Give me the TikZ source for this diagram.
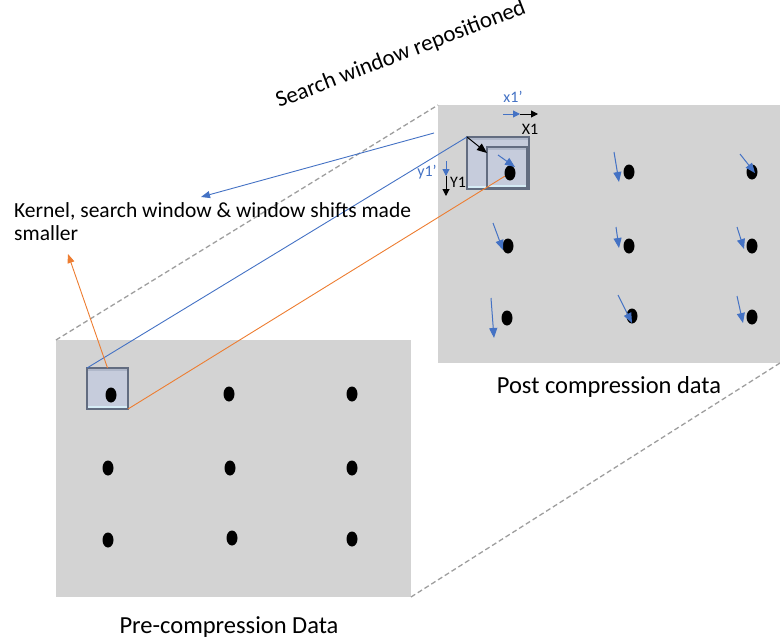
\documentclass[tikz,border=0pt]{standalone}
\usepackage{fontspec}
\setmainfont{Carlito}
\usetikzlibrary{arrows.meta,shapes.geometric}
\definecolor{msblue}{RGB}{68,114,196}
\definecolor{msorange}{RGB}{237,125,49}
\definecolor{panel}{RGB}{211,211,211}
\definecolor{guide}{RGB}{158,158,158}
\definecolor{kedge}{RGB}{98,108,128}
\definecolor{kfill}{RGB}{198,204,220}
\definecolor{ktop}{RGB}{176,184,202}
\definecolor{kbottom}{RGB}{214,236,246}

\begin{document}
\begin{tikzpicture}[x=1pt,y=-1pt,
  panelbox/.style={fill=panel, draw=none, inner sep=0pt, outer sep=0pt, anchor=north west},
  spot/.style={ellipse, fill=black, draw=none, minimum width=11pt, minimum height=15pt, inner sep=0pt},
  kbox/.style={draw=kedge, line width=1.4pt, fill=kfill, inner sep=0pt, outer sep=0pt, anchor=north west,
    path picture={
      \fill[ktop] (path picture bounding box.north west) rectangle ([yshift=-3pt]path picture bounding box.north east);
      \fill[kbottom] (path picture bounding box.south west) rectangle ([yshift=3.5pt]path picture bounding box.south east);
    }},
  guideline/.style={draw=guide, dash pattern=on 5pt off 3pt, line width=1.3pt},
  link/.style={line width=0.9pt},
  shift tip/.style={line width=1pt, -{Triangle[length=10pt,width=8pt]}},
  axis tip/.style={line width=1pt, -{Triangle[length=7pt,width=7pt]}},
  caption/.style={font=\fontsize{24.5}{29}\selectfont, inner sep=0pt},
  notetext/.style={font=\fontsize{21.5}{23}\selectfont, inner sep=0pt},
  tag/.style={font=\fontsize{16}{18}\selectfont, inner sep=0pt}
]
\useasboundingbox (0,0) rectangle (780,640);

% data panels
\node[panelbox, minimum width=355pt, minimum height=257pt] (pre) at (56,340) {};
\node[panelbox, minimum width=342pt, minimum height=258pt] (post) at (438,105) {};

% projection guides between panel corners
\draw[guideline] (pre.north west) -- (post.north west);
\draw[guideline] (pre.south east) -- (post.south east);

% kernel and search windows
\node[kbox, minimum width=41pt, minimum height=41pt] (kpre) at (87,368) {};
\node[kbox, minimum width=62pt, minimum height=52pt] (swin) at (467,137) {};
\node[kbox, minimum width=40pt, minimum height=41pt] (kpost) at (487,147) {};

% pre-compression points
\node[spot] (p11) at (111,395) {};
\node[spot] (p12) at (229,394) {};
\node[spot] (p13) at (352,394) {};
\node[spot] (p21) at (108,468) {};
\node[spot] (p22) at (230,468) {};
\node[spot] (p23) at (352,468) {};
\node[spot] (p31) at (108,540) {};
\node[spot] (p32) at (232,538) {};
\node[spot] (p33) at (352,539) {};

% post-compression points
\node[spot] (q11) at (510,173) {};
\node[spot] (q12) at (629,172) {};
\node[spot] (q13) at (752,172) {};
\node[spot] (q21) at (508,246) {};
\node[spot] (q22) at (629,246) {};
\node[spot] (q23) at (752,246) {};
\node[spot] (q31) at (507,318) {};
\node[spot] (q32) at (632,316) {};
\node[spot] (q33) at (752,317) {};

% links from the original kernel to the compressed frame
\draw[msblue, link] (kpre.north west) -- (swin.north west);
\draw[msorange, link] (kpre.south east) -- (q11);

% captions
\node[notetext, anchor=base west, align=left] (note) at (14,240) {Kernel, search window \& window shifts made\\smaller};
\node[caption, anchor=base] (postcap) at (609,393) {Post compression data};
\node[caption, anchor=base] (precap) at (229,633) {Pre-compression Data};
\node[caption, anchor=base west, rotate=21, font=\fontsize{23}{27}\selectfont] (moved) at (279,108) {Search window repositioned};

% callouts to the note
\coordinate (bluefrom) at (434,133);
\coordinate (blueto) at (201,197);
\coordinate (orangeto) at (68,254);
\draw[msblue, link, -{Triangle[length=9pt,width=7pt]}] (bluefrom) -- (blueto);
\draw[msorange, link, -{Triangle[length=9pt,width=7pt]}] (kpre.north) -- (orangeto);

% window shift inside the compressed frame
\coordinate (wshift) at (487,153);
\draw[black, shift tip] (swin.north west) -- (wshift);
\coordinate (ks0) at (498,155);
\coordinate (ks1) at (515,167);
\draw[msblue, shift tip] (ks0) -- (ks1);

% axis offsets
\coordinate (xa) at (503,114);
\coordinate (xb) at (520,114);
\coordinate (xc) at (538,114);
\draw[msblue, axis tip] (xa) -- (xb);
\draw[black, axis tip] (xb) -- (xc);
\node[tag, text=msblue] (xp) at (513,97) {x1’};
\node[tag] (xo) at (530,129) {X1};

\coordinate (ya) at (446,161);
\coordinate (yb) at (446,176);
\coordinate (yc) at (446,196);
\draw[msblue, axis tip] (ya) -- (yb);
\draw[black, axis tip] (yb) -- (yc);
\node[tag, text=msblue] (yp) at (427,172) {y1’};
\node[tag] (yo) at (458,182) {Y1};

% point displacements after compression
\foreach \s/\e in {{(614,152)}/{(619,182)}, {(740,154)}/{(755,173)},
                   {(493,223)}/{(503,250)}, {(616,227)}/{(619,248)}, {(737,227)}/{(744,249)},
                   {(491,298)}/{(494,338)}, {(618,295)}/{(632,323)}, {(737,296)}/{(743,323)}}
  \draw[msblue, shift tip] \s -- \e;
\end{tikzpicture}
\end{document}
